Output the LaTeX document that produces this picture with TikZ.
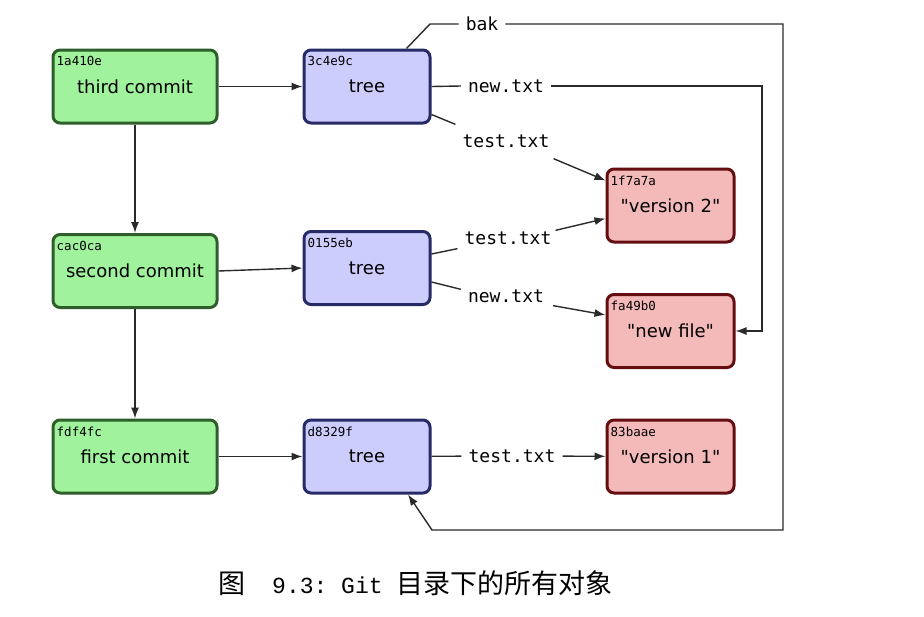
\documentclass[tikz,border=0pt]{standalone}
\usepackage{fontspec}
\setmainfont{DejaVu Sans}
\setmonofont{DejaVu Sans Mono}
\newfontfamily\cjk{Noto Sans CJK SC}
\newfontfamily\capmono{Liberation Mono}
\usetikzlibrary{arrows.meta}

\definecolor{commitfill}{HTML}{A0F29C}
\definecolor{commitline}{HTML}{2E5E2A}
\definecolor{treefill}{HTML}{CDCDFD}
\definecolor{treeline}{HTML}{262A66}
\definecolor{blobfill}{HTML}{F4B9B9}
\definecolor{blobline}{HTML}{640E12}
\definecolor{wirecol}{HTML}{2A2A2A}

\newcommand{\qt}[1]{\textquotedbl#1\textquotedbl}

\tikzset{
	obj/.style={draw, line width=3pt, rounded corners=7pt, minimum height=73pt, inner sep=0pt, font=\fontsize{18}{20}\selectfont},
	commit/.style={obj, fill=commitfill, draw=commitline, minimum width=164pt},
	tree/.style={obj, fill=treefill, draw=treeline, minimum width=126pt},
	blob/.style={obj, fill=blobfill, draw=blobline, minimum width=127pt},
	sha/.style={anchor=north west, inner sep=0pt, font=\ttfamily\fontsize{12.5}{13}\selectfont},
	fname/.style={inner xsep=7pt, inner ysep=3pt, font=\ttfamily\fontsize{18}{20}\selectfont},
	wire/.style={draw=wirecol, line width=1.4pt},
	ptr/.style={wire, -{Latex[length=11pt, width=8pt]}},
}

\begin{document}
\begin{tikzpicture}[x=1pt, y=-1pt]
		\useasboundingbox (0,0) rectangle (924,616);

		% commits
		\node[commit] (c3) at (135, 86.5) {third commit};
		\node[commit] (c2) at (135, 271) {second commit};
		\node[commit] (c1) at (135, 456.5) {first commit};
		% trees
		\node[tree] (t3) at (367, 86.5) {tree};
		\node[tree] (t2) at (367, 268) {tree};
		\node[tree] (t1) at (367, 456.5) {tree};
		% blobs
		\node[blob] (b2) at (670.5, 205.5) {\qt{version 2}};
		\node[blob] (bn) at (670.5, 331) {\qt{new file}};
		\node[blob] (b1) at (670.5, 456.5) {\qt{version 1}};

		% hashes
		\node[sha] at ([shift={(5,8)}]c3.north west) {1a410e};
		\node[sha] at ([shift={(5,8)}]c2.north west) {cac0ca};
		\node[sha] at ([shift={(5,8)}]c1.north west) {fdf4fc};
		\node[sha] at ([shift={(5,8)}]t3.north west) {3c4e9c};
		\node[sha] at ([shift={(5,8)}]t2.north west) {0155eb};
		\node[sha] at ([shift={(5,8)}]t1.north west) {d8329f};
		\node[sha] at ([shift={(5,8)}]b2.north west) {1f7a7a};
		\node[sha] at ([shift={(5,8)}]bn.north west) {fa49b0};
		\node[sha] at ([shift={(5,8)}]b1.north west) {83baae};

		% file names
		\node[fname] (bak) at (482, 24) {bak};
		\node[fname] (nt3) at (506, 86) {new.txt};
		\node[fname] (tt3) at (506, 141) {test.txt};
		\node[fname] (tt2) at (508, 238) {test.txt};
		\node[fname] (nt2) at (506, 296) {new.txt};
		\node[fname] (tt1) at (512, 456) {test.txt};

		\coordinate (bakup) at (430, 24);
		\coordinate (bakNE) at (783, 24);
		\coordinate (bakSE) at (783, 530);
		\coordinate (bakSW) at (432, 530);
		\coordinate (newNE) at (762, 86);

		% history
		\draw[ptr] (c3) -- (c2);
		\draw[ptr] (c2) -- (c1);
		\draw[ptr] (c3) -- (t3);
		\draw[ptr] (c2.east) -- (t2.west);
		\draw[ptr] (c1) -- (t1);

		% tree entries
		\draw[wire] ([xshift=-25pt]t3.north east) -- (bakup) -- (bak.west);
		\draw[ptr] (bak.east) -- (bakNE) -- (bakSE) -- (bakSW) -- ([xshift=41pt]t1.south);
		\draw[wire] (t3.east) -- (nt3.west);
		\draw[ptr] (nt3.east) -- (newNE) -- (newNE |- bn.east) -- (bn.east);
		\draw[wire] ([yshift=-28pt]t3.east) -- ([shift={(0,-7)}]tt3.north west);
		\draw[ptr] ([shift={(-3,8)}]tt3.south east) -- ([yshift=25pt]b2.west);
		\draw[wire] ([yshift=14pt]t2.east) -- ([shift={(0,1)}]tt2.south west);
		\draw[ptr] ([shift={(-3,2)}]tt2.north east) -- ([yshift=-13pt]b2.west);
		\draw[wire] ([yshift=-14pt]t2.east) -- ([shift={(0,3)}]nt2.north west);
		\draw[ptr] ([shift={(2,0)}]nt2.south east) -- ([yshift=16pt]bn.west);
		\draw[wire] (t1) -- (tt1);
		\draw[ptr] (tt1) -- (b1);

		% caption
		\node[anchor=west, inner sep=0pt] (cap) at (218, 583) {\fontsize{27}{30}\selectfont\cjk 图\hspace{27pt}{\capmono\fontsize{23}{28}\selectfont 9.3:\ Git}\hspace{14pt}目录下的所有对象};
	\end{tikzpicture}
\end{document}
